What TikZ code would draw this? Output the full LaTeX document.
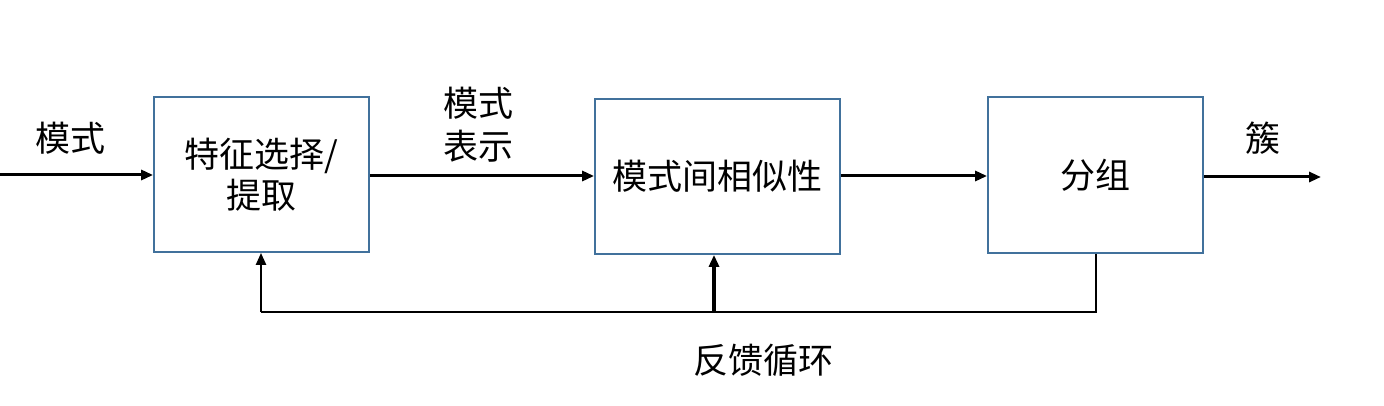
\documentclass[tikz,border=0pt]{standalone}
\usepackage{fontspec}
\newfontfamily\cjk{Noto Sans CJK SC}
\usetikzlibrary{arrows.meta}
\definecolor{boxblue}{RGB}{65,113,156}
\begin{document}
\begin{tikzpicture}[x=1pt,y=-1pt,
  blk/.style={draw=boxblue,line width=1.8pt,minimum width=#1,inner sep=0pt,align=center,font=\cjk\fontsize{35}{41}\selectfont},
  lbl/.style={inner sep=0pt,align=center,font=\cjk\fontsize{35}{43}\selectfont},
  flow/.style={line width=3pt,-{Triangle[length=12pt,width=10pt]}},
  fb/.style={line width=2.4pt}]
\useasboundingbox (0,0) rectangle (1384,406);
\node[blk=215pt,minimum height=155pt] (b1) at (261.5,174.5) {特征选择/\\提取};
\node[blk=245pt,minimum height=155pt] (b2) at (717.5,176.5) {模式间相似性};
\node[blk=215pt,minimum height=156pt] (b3) at (1095.5,175) {分组};
\coordinate (in) at (0,175);
\coordinate (out) at (1321,177);
\coordinate (c3) at (1096,312);
\coordinate (c1) at (261,312);
\coordinate (c2) at (714,312);
\node[lbl] (t1) at (70,138) {模式};
\node[lbl] (t2) at (478,125) {模式\\表示};
\node[lbl] (t3) at (1263,138) {簇};
\node[lbl] (t4) at (763,360) {反馈循环};
\draw[flow] (in) -- (in -| b1.west);
\draw[flow] (b1.east |- 0,176) -- (b2.west |- 0,176);
\draw[flow] (b2.east |- 0,176) -- (b3.west |- 0,176);
\draw[flow] (b3.east |- out) -- (out);
\draw[fb] (c3 |- b3.south) -- (c3) -- (c1);
\draw[fb,-{Triangle[length=12pt,width=10pt]}] (c1) -- (c1 |- b1.south);
\draw[line width=3.2pt,-{Triangle[length=12pt,width=10pt]}] (c2) -- (c2 |- b2.south);
\end{tikzpicture}
\end{document}
